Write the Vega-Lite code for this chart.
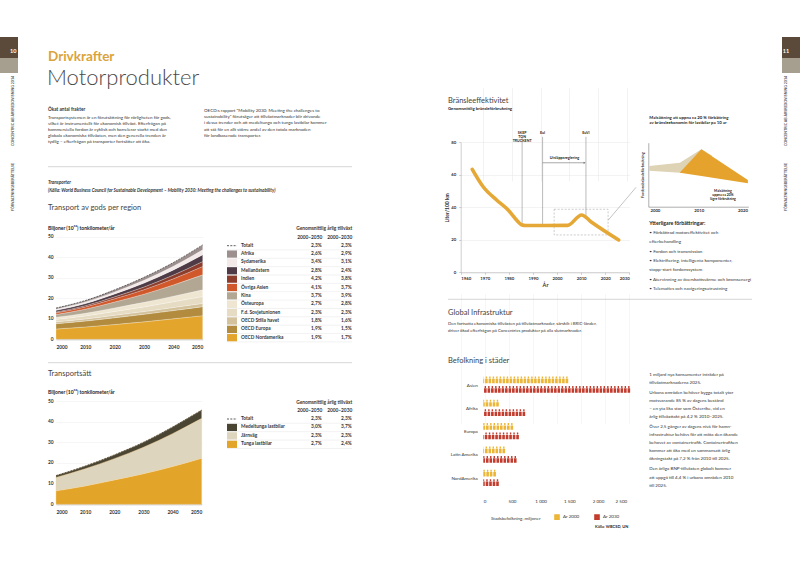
{
"$schema": "https://vega.github.io/schema/vega-lite/v6.json",
"width": 800, "height": 566, "padding": 0,
"autosize": {"type": "none"},
"background": "#ffffff",
"config": {
  "font": "Lato",
  "view": {"stroke": null},
  "axis": {"labelFont": "Lato", "titleFont": "Lato", "labelColor": "#333333", "titleColor": "#333333", "domainColor": "#b0b0b0", "tickColor": "#b0b0b0", "labelFontSize": 4.8, "grid": false, "domainWidth": 0.6, "tickWidth": 0.6},
  "legend": {"labelFont": "Lato", "titleFont": "Lato"}
},
"datasets": {
  "regions": [
    {"year":2000,"region":"OECD Nordamerika","value":5.0,"rank":1},{"year":2010,"region":"OECD Nordamerika","value":6.0,"rank":1},{"year":2020,"region":"OECD Nordamerika","value":7.2,"rank":1},{"year":2030,"region":"OECD Nordamerika","value":8.5,"rank":1},{"year":2040,"region":"OECD Nordamerika","value":10.0,"rank":1},{"year":2050,"region":"OECD Nordamerika","value":11.5,"rank":1},
    {"year":2000,"region":"OECD Europa","value":2.6,"rank":2},{"year":2010,"region":"OECD Europa","value":2.9,"rank":2},{"year":2020,"region":"OECD Europa","value":3.3,"rank":2},{"year":2030,"region":"OECD Europa","value":3.7,"rank":2},{"year":2040,"region":"OECD Europa","value":4.0,"rank":2},{"year":2050,"region":"OECD Europa","value":4.4,"rank":2},
    {"year":2000,"region":"OECD Stilla havet","value":0.9,"rank":3},{"year":2010,"region":"OECD Stilla havet","value":1.0,"rank":3},{"year":2020,"region":"OECD Stilla havet","value":1.2,"rank":3},{"year":2030,"region":"OECD Stilla havet","value":1.3,"rank":3},{"year":2040,"region":"OECD Stilla havet","value":1.5,"rank":3},{"year":2050,"region":"OECD Stilla havet","value":1.6,"rank":3},
    {"year":2000,"region":"F.d. Sovjetunionen","value":1.2,"rank":4},{"year":2010,"region":"F.d. Sovjetunionen","value":1.5,"rank":4},{"year":2020,"region":"F.d. Sovjetunionen","value":1.9,"rank":4},{"year":2030,"region":"F.d. Sovjetunionen","value":2.3,"rank":4},{"year":2040,"region":"F.d. Sovjetunionen","value":2.8,"rank":4},{"year":2050,"region":"F.d. Sovjetunionen","value":3.3,"rank":4},
    {"year":2000,"region":"Östeuropa","value":1.0,"rank":5},{"year":2010,"region":"Östeuropa","value":1.3,"rank":5},{"year":2020,"region":"Östeuropa","value":1.7,"rank":5},{"year":2030,"region":"Östeuropa","value":2.2,"rank":5},{"year":2040,"region":"Östeuropa","value":2.7,"rank":5},{"year":2050,"region":"Östeuropa","value":3.3,"rank":5},
    {"year":2000,"region":"Kina","value":1.4,"rank":6},{"year":2010,"region":"Kina","value":2.0,"rank":6},{"year":2020,"region":"Kina","value":2.9,"rank":6},{"year":2030,"region":"Kina","value":4.0,"rank":6},{"year":2040,"region":"Kina","value":5.5,"rank":6},{"year":2050,"region":"Kina","value":7.3,"rank":6},
    {"year":2000,"region":"Övriga Asien","value":0.8,"rank":7},{"year":2010,"region":"Övriga Asien","value":1.1,"rank":7},{"year":2020,"region":"Övriga Asien","value":1.6,"rank":7},{"year":2030,"region":"Övriga Asien","value":2.2,"rank":7},{"year":2040,"region":"Övriga Asien","value":3.0,"rank":7},{"year":2050,"region":"Övriga Asien","value":4.1,"rank":7},
    {"year":2000,"region":"Indien","value":0.4,"rank":8},{"year":2010,"region":"Indien","value":0.6,"rank":8},{"year":2020,"region":"Indien","value":0.9,"rank":8},{"year":2030,"region":"Indien","value":1.3,"rank":8},{"year":2040,"region":"Indien","value":1.8,"rank":8},{"year":2050,"region":"Indien","value":2.4,"rank":8},
    {"year":2000,"region":"Mellanöstern","value":0.8,"rank":9},{"year":2010,"region":"Mellanöstern","value":1.0,"rank":9},{"year":2020,"region":"Mellanöstern","value":1.4,"rank":9},{"year":2030,"region":"Mellanöstern","value":1.9,"rank":9},{"year":2040,"region":"Mellanöstern","value":2.5,"rank":9},{"year":2050,"region":"Mellanöstern","value":3.3,"rank":9},
    {"year":2000,"region":"Sydamerika","value":0.6,"rank":10},{"year":2010,"region":"Sydamerika","value":0.8,"rank":10},{"year":2020,"region":"Sydamerika","value":1.0,"rank":10},{"year":2030,"region":"Sydamerika","value":1.4,"rank":10},{"year":2040,"region":"Sydamerika","value":1.8,"rank":10},{"year":2050,"region":"Sydamerika","value":2.4,"rank":10},
    {"year":2000,"region":"Afrika","value":0.5,"rank":11},{"year":2010,"region":"Afrika","value":0.7,"rank":11},{"year":2020,"region":"Afrika","value":1.0,"rank":11},{"year":2030,"region":"Afrika","value":1.4,"rank":11},{"year":2040,"region":"Afrika","value":1.8,"rank":11},{"year":2050,"region":"Afrika","value":2.4,"rank":11}
  ],
  "regTotal": [{"year":2000,"total":15.2},{"year":2010,"total":18.9},{"year":2020,"total":24.1},{"year":2030,"total":30.2},{"year":2040,"total":37.4},{"year":2050,"total":46.0}],
  "t1": [
    {"region":"Totalt","2000–2050":"2,3%","2000–2030":"2,3%"},
    {"region":"Afrika","2000–2050":"2,6%","2000–2030":"2,9%"},
    {"region":"Sydamerika","2000–2050":"3,4%","2000–2030":"3,1%"},
    {"region":"Mellanöstern","2000–2050":"2,8%","2000–2030":"2,4%"},
    {"region":"Indien","2000–2050":"4,2%","2000–2030":"3,8%"},
    {"region":"Övriga Asien","2000–2050":"4,1%","2000–2030":"3,7%"},
    {"region":"Kina","2000–2050":"3,7%","2000–2030":"3,9%"},
    {"region":"Östeuropa","2000–2050":"2,7%","2000–2030":"2,8%"},
    {"region":"F.d. Sovjetunionen","2000–2050":"2,3%","2000–2030":"2,3%"},
    {"region":"OECD Stilla havet","2000–2050":"1,8%","2000–2030":"1,6%"},
    {"region":"OECD Europa","2000–2050":"1,9%","2000–2030":"1,5%"},
    {"region":"OECD Nordamerika","2000–2050":"1,9%","2000–2030":"1,7%"}
  ],
  "modes": [
    {"year":2000,"mode":"Tunga lastbilar","value":6.5,"rank":1},{"year":2010,"mode":"Tunga lastbilar","value":8.9,"rank":1},{"year":2020,"mode":"Tunga lastbilar","value":11.8,"rank":1},{"year":2030,"mode":"Tunga lastbilar","value":14.8,"rank":1},{"year":2040,"mode":"Tunga lastbilar","value":18.3,"rank":1},{"year":2050,"mode":"Tunga lastbilar","value":22.3,"rank":1},
    {"year":2000,"mode":"Järnväg","value":6.5,"rank":2},{"year":2010,"mode":"Järnväg","value":8.3,"rank":2},{"year":2020,"mode":"Järnväg","value":10.3,"rank":2},{"year":2030,"mode":"Järnväg","value":12.8,"rank":2},{"year":2040,"mode":"Järnväg","value":15.9,"rank":2},{"year":2050,"mode":"Järnväg","value":19.3,"rank":2},
    {"year":2000,"mode":"Medeltunga lastbilar","value":0.9,"rank":3},{"year":2010,"mode":"Medeltunga lastbilar","value":1.3,"rank":3},{"year":2020,"mode":"Medeltunga lastbilar","value":1.8,"rank":3},{"year":2030,"mode":"Medeltunga lastbilar","value":2.4,"rank":3},{"year":2040,"mode":"Medeltunga lastbilar","value":3.2,"rank":3},{"year":2050,"mode":"Medeltunga lastbilar","value":4.0,"rank":3}
  ],
  "modeTotal": [{"year":2000,"total":13.9},{"year":2010,"total":18.5},{"year":2020,"total":23.9},{"year":2030,"total":30.0},{"year":2040,"total":37.4},{"year":2050,"total":45.6}],
  "t2": [
    {"mode":"Totalt","2000–2050":"2,3%","2000–2030":"2,3%"},
    {"mode":"Medeltunga lastbilar","2000–2050":"3,0%","2000–2030":"3,7%"},
    {"mode":"Järnväg","2000–2050":"2,3%","2000–2030":"2,3%"},
    {"mode":"Tunga lastbilar","2000–2050":"2,7%","2000–2030":"2,4%"}
  ],
  "fuel": [{"year":1964.8,"v":63.4},{"year":1969.4,"v":52.5},{"year":1974.9,"v":44.5},{"year":1979.7,"v":38.3},{"year":1982.7,"v":33},{"year":1985.2,"v":29.3},{"year":1987.1,"v":28.8},{"year":1995,"v":28.8},{"year":2004.4,"v":28.9},{"year":2010.2,"v":35.3},{"year":2014.2,"v":31},{"year":2025.6,"v":19.9}],
  "picto": [
    {"region":"Asien","year":"År 2000","value":1480},{"region":"Asien","year":"År 2030","value":2560},
    {"region":"Afrika","year":"År 2000","value":270},{"region":"Afrika","year":"År 2030","value":730},
    {"region":"Europa","year":"År 2000","value":520},{"region":"Europa","year":"År 2030","value":620},
    {"region":"Latin Amerika","year":"År 2000","value":380},{"region":"Latin Amerika","year":"År 2030","value":580},
    {"region":"NordAmerika","year":"År 2000","value":220},{"region":"NordAmerika","year":"År 2030","value":270}
  ]
},
"resolve": {"scale": {"x": "independent", "y": "independent", "color": "independent"}, "axis": {"x": "independent", "y": "independent"}, "legend": {"color": "independent"}},
"layer": [
  {"data": {"values": [{"side":"L"},{"side":"R"}]}, "mark": {"type":"rect","color":"#5b4a3a"},
   "encoding": {"x": {"field":"side","type":"nominal","scale":{"type":"band","domain":["L","R"],"range":[0,800],"paddingInner":0.977,"paddingOuter":0},"axis":null},
     "y": {"datum":0,"type":"quantitative","scale":{"domain":[0,36],"range":[37,73],"nice":false,"zero":false},"axis":null},
     "y2": {"datum":21}}},
  {"data": {"values": [{"side":"L"},{"side":"R"}]}, "mark": {"type":"rect","color":"#a69e8f"},
   "encoding": {"x": {"field":"side","type":"nominal","scale":{"type":"band","domain":["L","R"],"range":[0,800],"paddingInner":0.977,"paddingOuter":0},"axis":null},
     "y": {"datum":21,"type":"quantitative","scale":{"domain":[0,36],"range":[37,73],"nice":false,"zero":false},"axis":null},
     "y2": {"datum":36}}},
  {"data": {"values": [{"side":"L","num":"10"},{"side":"R","num":"11"}]}, "mark": {"type":"text","color":"#ffffff","fontSize":5.5,"fontWeight":"bold","baseline":"middle"},
   "encoding": {"x": {"field":"side","type":"nominal","scale":{"type":"point","domain":["L","R"],"range":[13.3,786],"padding":0},"axis":null},
     "y": {"datum":0,"type":"quantitative","scale":{"domain":[0,1],"range":[50.7,51.7],"nice":false,"zero":false},"axis":null},
     "text": {"field":"num"}}},
  {"data": {"values": [{"side":"L","seg":"a","text":"CONCENTRIC AB ÅRSREDOVISNING 2014"},{"side":"L","seg":"b","text":"FÖRVALTNINGSBERÄTTELSE"},{"side":"R","seg":"a","text":"CONCENTRIC AB ÅRSREDOVISNING 2014"},{"side":"R","seg":"b","text":"FÖRVALTNINGSBERÄTTELSE"}]},
   "mark": {"type":"text","color":"#555555","fontSize":3.6,"fontWeight":"bold","angle":270,"align":"center","baseline":"middle"},
   "encoding": {"x": {"field":"side","type":"nominal","scale":{"type":"point","domain":["L","R"],"range":[13.3,786],"padding":0},"axis":null},
     "y": {"field":"seg","type":"nominal","scale":{"type":"point","domain":["a","b"],"range":[111,187],"padding":0},"axis":null},
     "text": {"field":"text"}}},

  {"data": {"values": [{"line":0,"text":"Drivkrafter"}]}, "mark": {"type":"text","align":"left","baseline":"alphabetic","fontSize":13.5,"fontWeight":"bold","color":"#dba33b"},
   "encoding": {"x": {"datum":0,"type":"quantitative","scale":{"domain":[0,1],"range":[48,49],"nice":false,"zero":false},"axis":null},
     "y": {"field":"line","type":"quantitative","scale":{"domain":[0,1],"range":[60.7,61.7],"nice":false,"zero":false},"axis":null},"text": {"field":"text"}}},
  {"data": {"values": [{"line":0,"text":"Motorprodukter"}]}, "mark": {"type":"text","align":"left","baseline":"alphabetic","fontSize":22,"fontWeight":300,"color":"#4a4a4a"},
   "encoding": {"x": {"datum":0,"type":"quantitative","scale":{"domain":[0,1],"range":[47,48],"nice":false,"zero":false},"axis":null},
     "y": {"field":"line","type":"quantitative","scale":{"domain":[0,1],"range":[85,86],"nice":false,"zero":false},"axis":null},"text": {"field":"text"}}},
  {"data": {"values": [{"line":0,"text":"Ökat antal frakter"}]}, "mark": {"type":"text","align":"left","baseline":"middle","fontSize":4.7,"fontWeight":"bold","color":"#333333"},
   "encoding": {"x": {"datum":0,"type":"quantitative","scale":{"domain":[0,1],"range":[48,49],"nice":false,"zero":false},"axis":null},
     "y": {"field":"line","type":"quantitative","scale":{"domain":[0,1],"range":[110,111],"nice":false,"zero":false},"axis":null},"text": {"field":"text"}}},
  {"data": {"values": [
      {"line":0,"text":"Transportsystemen är en förutsättning för rörligheten för gods,"},
      {"line":1,"text":"vilket är instrumentellt för ekonomisk tillväxt. Efterfrågan på"},
      {"line":2,"text":"kommersiella fordon är cyklisk och korrelerar starkt med den"},
      {"line":3,"text":"globala ekonomiska tillväxten, men den generella trenden är"},
      {"line":4,"text":"tydlig – efterfrågan på transporter fortsätter att öka."}]},
   "mark": {"type":"text","align":"left","baseline":"middle","fontSize":4.5,"color":"#333333"},
   "encoding": {"x": {"datum":0,"type":"quantitative","scale":{"domain":[0,1],"range":[48,49],"nice":false,"zero":false},"axis":null},
     "y": {"field":"line","type":"quantitative","scale":{"domain":[0,1],"range":[118.3,124.3],"nice":false,"zero":false},"axis":null},"text": {"field":"text"}}},
  {"data": {"values": [
      {"line":0,"text":"OECD:s rapport \"Mobility 2030: Meeting the challenges to"},
      {"line":1,"text":"sustainability\" förutsäger att tillväxtmarknader blir drivande"},
      {"line":2,"text":"i dessa trender och att medeltunga och tunga lastbilar kommer"},
      {"line":3,"text":"att stå för en allt större andel av den totala marknaden"},
      {"line":4,"text":"för landbaserade transporter."}]},
   "mark": {"type":"text","align":"left","baseline":"middle","fontSize":4.5,"color":"#333333"},
   "encoding": {"x": {"datum":0,"type":"quantitative","scale":{"domain":[0,1],"range":[204,205],"nice":false,"zero":false},"axis":null},
     "y": {"field":"line","type":"quantitative","scale":{"domain":[0,1],"range":[110.7,117],"nice":false,"zero":false},"axis":null},"text": {"field":"text"}}},
  {"data": {"values": [{"sep":0},{"sep":1}]}, "mark": {"type":"rule","color":"#c4c4c4","strokeWidth":0.7},
   "encoding": {"x": {"datum":0,"type":"quantitative","scale":{"domain":[0,1],"range":[48,352],"nice":false,"zero":false},"axis":null},"x2": {"datum":1},
     "y": {"field":"sep","type":"quantitative","scale":{"domain":[0,1],"range":[166.7,362.7],"nice":false,"zero":false},"axis":null}}},
  {"data": {"values": [{"line":0,"text":"Transporter"}]}, "mark": {"type":"text","align":"left","baseline":"middle","fontSize":4.7,"fontWeight":"bold","fontStyle":"italic","color":"#333333"},
   "encoding": {"x": {"datum":0,"type":"quantitative","scale":{"domain":[0,1],"range":[48,49],"nice":false,"zero":false},"axis":null},
     "y": {"field":"line","type":"quantitative","scale":{"domain":[0,1],"range":[183.3,184.3],"nice":false,"zero":false},"axis":null},"text": {"field":"text"}}},
  {"data": {"values": [{"line":0,"text":"(Källa: World Business Council for Sustainable Development – Mobility 2030: Meeting the challenges to sustainability)"}]}, "mark": {"type":"text","align":"left","baseline":"middle","fontSize":4.6,"fontWeight":"bold","fontStyle":"italic","color":"#333333"},
   "encoding": {"x": {"datum":0,"type":"quantitative","scale":{"domain":[0,1],"range":[48,49],"nice":false,"zero":false},"axis":null},
     "y": {"field":"line","type":"quantitative","scale":{"domain":[0,1],"range":[191,192],"nice":false,"zero":false},"axis":null},"text": {"field":"text"}}},
  {"data": {"values": [{"line":0,"text":"Transport av gods per region"},{"line":1,"text":"Transportsätt"}]}, "mark": {"type":"text","align":"left","baseline":"middle","fontSize":7.5,"color":"#444444"},
   "encoding": {"x": {"datum":0,"type":"quantitative","scale":{"domain":[0,1],"range":[48,49],"nice":false,"zero":false},"axis":null},
     "y": {"field":"line","type":"quantitative","scale":{"domain":[0,1],"range":[208.3,374],"nice":false,"zero":false},"axis":null},"text": {"field":"text"}}},
  {"data": {"values": [{"line":0,"text":"Biljoner (10¹²) tonkilometer/år"},{"line":1,"text":"Biljoner (10¹²) tonkilometer/år"}]}, "mark": {"type":"text","align":"left","baseline":"middle","fontSize":5,"fontWeight":"bold","color":"#222222"},
   "encoding": {"x": {"datum":0,"type":"quantitative","scale":{"domain":[0,1],"range":[48,49],"nice":false,"zero":false},"axis":null},
     "y": {"field":"line","type":"quantitative","scale":{"domain":[0,1],"range":[227.7,392.3],"nice":false,"zero":false},"axis":null},"text": {"field":"text"}}},

  {"data": {"name":"regions"}, "mark": {"type":"area","interpolate":"monotone","stroke":"#ffffff","strokeWidth":0.25},
   "encoding": {
     "x": {"field":"year","type":"quantitative","scale":{"domain":[2000,2050],"range":[56,202.7],"nice":false,"zero":false},
       "axis":{"orient":"bottom","offset":-226.7,"values":[2000,2010,2020,2030,2040,2050],"format":"d","labelFontWeight":"bold","tickSize":0,"labelPadding":5,"title":null,"domainColor":"#999999"}},
     "y": {"field":"value","type":"quantitative","stack":"zero","scale":{"domain":[0,50],"range":[339.3,236.7],"nice":false,"zero":false},
       "axis":{"orient":"left","offset":-56,"values":[0,10,20,30,40,50],"labelFontWeight":"bold","tickSize":0,"labelPadding":3,"domain":false,"grid":true,"gridColor":"#ececec","gridWidth":0.5,"title":null}},
     "color": {"field":"region","type":"nominal","scale":{"domain":["Afrika","Sydamerika","Mellanöstern","Indien","Övriga Asien","Kina","Östeuropa","F.d. Sovjetunionen","OECD Stilla havet","OECD Europa","OECD Nordamerika"],"range":["#9d8f8e","#f3e9e9","#4f3b45","#8c3d2c","#d0582a","#b2a793","#efe6d2","#e6dbc3","#d3c29c","#b28b3e","#e3a52c"]},"legend":null},
     "order": {"field":"rank","type":"quantitative","sort":"ascending"}}},
  {"data": {"name":"regTotal"}, "mark": {"type":"line","interpolate":"monotone","color":"#333333","strokeWidth":0.7,"strokeDash":[2,1]},
   "encoding": {"x": {"field":"year","type":"quantitative","scale":{"domain":[2000,2050],"range":[56,202.7],"nice":false,"zero":false},"axis":null},
     "y": {"field":"total","type":"quantitative","scale":{"domain":[0,50],"range":[339.3,236.7],"nice":false,"zero":false},"axis":null}}},
  {"data": {"name":"t1"}, "transform": [{"filter":"datum.region != 'Totalt'"}], "mark": {"type":"bar","height":7.3},
   "encoding": {"y": {"field":"region","type":"nominal","sort":null,"scale":{"type":"point","domain":["Totalt","Afrika","Sydamerika","Mellanöstern","Indien","Övriga Asien","Kina","Östeuropa","F.d. Sovjetunionen","OECD Stilla havet","OECD Europa","OECD Nordamerika"],"range":[245.7,337.7],"padding":0},"axis":null},
     "x": {"datum":0,"type":"quantitative","scale":{"domain":[0,1],"range":[227,237],"nice":false,"zero":false},"axis":null},"x2": {"datum":1},
     "color": {"field":"region","type":"nominal","scale":{"domain":["Afrika","Sydamerika","Mellanöstern","Indien","Övriga Asien","Kina","Östeuropa","F.d. Sovjetunionen","OECD Stilla havet","OECD Europa","OECD Nordamerika"],"range":["#9d8f8e","#f3e9e9","#4f3b45","#8c3d2c","#d0582a","#b2a793","#efe6d2","#e6dbc3","#d3c29c","#b28b3e","#e3a52c"]},"legend":null}}},
  {"data": {"name":"t1"}, "transform": [{"filter":"datum.region == 'Totalt'"}], "mark": {"type":"rule","color":"#333333","strokeWidth":0.8,"strokeDash":[2,1.3]},
   "encoding": {"y": {"field":"region","type":"nominal","scale":{"type":"point","domain":["Totalt","Afrika","Sydamerika","Mellanöstern","Indien","Övriga Asien","Kina","Östeuropa","F.d. Sovjetunionen","OECD Stilla havet","OECD Europa","OECD Nordamerika"],"range":[245.7,337.7],"padding":0},"axis":null},
     "x": {"datum":0,"type":"quantitative","scale":{"domain":[0,1],"range":[227,237],"nice":false,"zero":false},"axis":null},"x2": {"datum":1}}},
  {"data": {"name":"t1"}, "mark": {"type":"rule","color":"#dddddd","strokeWidth":0.4},
   "encoding": {"y": {"field":"region","type":"nominal","scale":{"type":"point","domain":["Totalt","Afrika","Sydamerika","Mellanöstern","Indien","Övriga Asien","Kina","Östeuropa","F.d. Sovjetunionen","OECD Stilla havet","OECD Europa","OECD Nordamerika"],"range":[249.9,341.9],"padding":0},"axis":null},
     "x": {"datum":0,"type":"quantitative","scale":{"domain":[0,1],"range":[227,352],"nice":false,"zero":false},"axis":null},"x2": {"datum":1}}},
  {"data": {"name":"t1"}, "mark": {"type":"text","align":"left","baseline":"middle","fontSize":4.8,"fontWeight":"bold","color":"#333333"},
   "encoding": {"y": {"field":"region","type":"nominal","scale":{"type":"point","domain":["Totalt","Afrika","Sydamerika","Mellanöstern","Indien","Övriga Asien","Kina","Östeuropa","F.d. Sovjetunionen","OECD Stilla havet","OECD Europa","OECD Nordamerika"],"range":[245.7,337.7],"padding":0},"axis":null},
     "x": {"datum":0,"type":"quantitative","scale":{"domain":[0,1],"range":[241,242],"nice":false,"zero":false},"axis":null},
     "text": {"field":"region"}}},
  {"data": {"name":"t1"}, "transform": [{"fold":["2000–2050","2000–2030"],"as":["period","rate"]}], "mark": {"type":"text","align":"right","baseline":"middle","fontSize":4.8,"fontWeight":"bold","color":"#333333"},
   "encoding": {"y": {"field":"region","type":"nominal","scale":{"type":"point","domain":["Totalt","Afrika","Sydamerika","Mellanöstern","Indien","Övriga Asien","Kina","Östeuropa","F.d. Sovjetunionen","OECD Stilla havet","OECD Europa","OECD Nordamerika"],"range":[245.7,337.7],"padding":0},"axis":null},
     "x": {"field":"period","type":"nominal","scale":{"type":"point","domain":["2000–2050","2000–2030"],"range":[321.7,351.7],"padding":0},
       "axis":{"orient":"top","offset":-239.5,"domain":false,"ticks":false,"labelPadding":0.5,"labelFontSize":4.8,"labelFontWeight":"bold","labelAlign":"right","labelAngle":0,"title":"Genomsnittlig årlig tillväxt","titleFontSize":4.8,"titleFontWeight":"bold","titleAnchor":"end","titlePadding":3.5}},
     "text": {"field":"rate"}}},

  {"data": {"name":"modes"}, "mark": {"type":"area","interpolate":"monotone","stroke":"#f4d39a","strokeWidth":0.4},
   "encoding": {
     "x": {"field":"year","type":"quantitative","scale":{"domain":[2000,2050],"range":[56,201.7],"nice":false,"zero":false},
       "axis":{"orient":"bottom","offset":-61.7,"values":[2000,2010,2020,2030,2040,2050],"format":"d","labelFontWeight":"bold","tickSize":0,"labelPadding":5,"title":null,"domainColor":"#999999"}},
     "y": {"field":"value","type":"quantitative","stack":"zero","scale":{"domain":[0,50],"range":[504.3,401],"nice":false,"zero":false},
       "axis":{"orient":"left","offset":-56,"values":[0,10,20,30,40,50],"labelFontWeight":"bold","tickSize":0,"labelPadding":3,"domain":false,"grid":true,"gridColor":"#ececec","gridWidth":0.5,"title":null}},
     "color": {"field":"mode","type":"nominal","scale":{"domain":["Medeltunga lastbilar","Järnväg","Tunga lastbilar"],"range":["#4a4533","#ddd5bd","#e3a42a"]},"legend":null},
     "order": {"field":"rank","type":"quantitative","sort":"ascending"}}},
  {"data": {"name":"modeTotal"}, "mark": {"type":"line","interpolate":"monotone","color":"#333333","strokeWidth":0.7,"strokeDash":[2,1]},
   "encoding": {"x": {"field":"year","type":"quantitative","scale":{"domain":[2000,2050],"range":[56,201.7],"nice":false,"zero":false},"axis":null},
     "y": {"field":"total","type":"quantitative","scale":{"domain":[0,50],"range":[504.3,401],"nice":false,"zero":false},"axis":null}}},
  {"data": {"name":"t2"}, "transform": [{"filter":"datum.mode != 'Totalt'"}], "mark": {"type":"bar","height":7.3},
   "encoding": {"y": {"field":"mode","type":"nominal","sort":null,"scale":{"type":"point","domain":["Totalt","Medeltunga lastbilar","Järnväg","Tunga lastbilar"],"range":[419,444.3],"padding":0},"axis":null},
     "x": {"datum":0,"type":"quantitative","scale":{"domain":[0,1],"range":[227,237],"nice":false,"zero":false},"axis":null},"x2": {"datum":1},
     "color": {"field":"mode","type":"nominal","scale":{"domain":["Medeltunga lastbilar","Järnväg","Tunga lastbilar"],"range":["#4a4533","#ddd5bd","#e3a42a"]},"legend":null}}},
  {"data": {"name":"t2"}, "transform": [{"filter":"datum.mode == 'Totalt'"}], "mark": {"type":"rule","color":"#333333","strokeWidth":0.8,"strokeDash":[2,1.3]},
   "encoding": {"y": {"field":"mode","type":"nominal","scale":{"type":"point","domain":["Totalt","Medeltunga lastbilar","Järnväg","Tunga lastbilar"],"range":[419,444.3],"padding":0},"axis":null},
     "x": {"datum":0,"type":"quantitative","scale":{"domain":[0,1],"range":[227,237],"nice":false,"zero":false},"axis":null},"x2": {"datum":1}}},
  {"data": {"name":"t2"}, "mark": {"type":"rule","color":"#dddddd","strokeWidth":0.4},
   "encoding": {"y": {"field":"mode","type":"nominal","scale":{"type":"point","domain":["Totalt","Medeltunga lastbilar","Järnväg","Tunga lastbilar"],"range":[423.2,448.5],"padding":0},"axis":null},
     "x": {"datum":0,"type":"quantitative","scale":{"domain":[0,1],"range":[227,352],"nice":false,"zero":false},"axis":null},"x2": {"datum":1}}},
  {"data": {"name":"t2"}, "mark": {"type":"text","align":"left","baseline":"middle","fontSize":4.8,"fontWeight":"bold","color":"#333333"},
   "encoding": {"y": {"field":"mode","type":"nominal","scale":{"type":"point","domain":["Totalt","Medeltunga lastbilar","Järnväg","Tunga lastbilar"],"range":[419,444.3],"padding":0},"axis":null},
     "x": {"datum":0,"type":"quantitative","scale":{"domain":[0,1],"range":[241,242],"nice":false,"zero":false},"axis":null},
     "text": {"field":"mode"}}},
  {"data": {"name":"t2"}, "transform": [{"fold":["2000–2050","2000–2030"],"as":["period","rate"]}], "mark": {"type":"text","align":"right","baseline":"middle","fontSize":4.8,"fontWeight":"bold","color":"#333333"},
   "encoding": {"y": {"field":"mode","type":"nominal","scale":{"type":"point","domain":["Totalt","Medeltunga lastbilar","Järnväg","Tunga lastbilar"],"range":[419,444.3],"padding":0},"axis":null},
     "x": {"field":"period","type":"nominal","scale":{"type":"point","domain":["2000–2050","2000–2030"],"range":[321.7,351.7],"padding":0},
       "axis":{"orient":"top","offset":-413.3,"domain":false,"ticks":false,"labelPadding":0.5,"labelFontSize":4.8,"labelFontWeight":"bold","labelAlign":"right","labelAngle":0,"title":"Genomsnittlig årlig tillväxt","titleFontSize":4.8,"titleFontWeight":"bold","titleAnchor":"end","titlePadding":3.5}},
     "text": {"field":"rate"}}},

  {"data": {"values": [{"line":0,"text":"Bränsleeffektivitet"}]}, "mark": {"type":"text","align":"left","baseline":"middle","fontSize":7.5,"color":"#444444"},
   "encoding": {"x": {"datum":0,"type":"quantitative","scale":{"domain":[0,1],"range":[448,449],"nice":false,"zero":false},"axis":null},
     "y": {"field":"line","type":"quantitative","scale":{"domain":[0,1],"range":[100.7,101.7],"nice":false,"zero":false},"axis":null},"text": {"field":"text"}}},
  {"data": {"values": [{"line":0,"text":"Genomsnittlig bränsleförbrukning"}]}, "mark": {"type":"text","align":"left","baseline":"middle","fontSize":4.3,"fontWeight":"bold","color":"#222222"},
   "encoding": {"x": {"datum":0,"type":"quantitative","scale":{"domain":[0,1],"range":[448,449],"nice":false,"zero":false},"axis":null},
     "y": {"field":"line","type":"quantitative","scale":{"domain":[0,1],"range":[109.3,110.3],"nice":false,"zero":false},"axis":null},"text": {"field":"text"}}},
  {"data": {"values": [{"x0":1998.8,"x1":2021.2,"y0":23,"y1":38.8}]}, "mark": {"type":"rect","fillOpacity":0,"stroke":"#9a9a9a","strokeDash":[2,1.5],"strokeWidth":0.5},
   "encoding": {"x": {"field":"x0","type":"quantitative","scale":{"domain":[1960,2030],"range":[460.7,629.3],"nice":false,"zero":false},"axis":null},"x2": {"field":"x1"},
     "y": {"field":"y0","type":"quantitative","scale":{"domain":[0,80],"range":[272.3,142.3],"nice":false,"zero":false},"axis":null},"y2": {"field":"y1"}}},
  {"data": {"values": [{"year":1985.5,"y0":29,"y1":83.4},{"year":1994,"y0":29,"y1":83.4},{"year":2012,"y0":33.5,"y1":83.4}]}, "mark": {"type":"rule","color":"#777777","strokeWidth":0.5},
   "encoding": {"x": {"field":"year","type":"quantitative","scale":{"domain":[1960,2030],"range":[460.7,629.3],"nice":false,"zero":false},"axis":null},
     "y": {"field":"y0","type":"quantitative","scale":{"domain":[0,80],"range":[272.3,142.3],"nice":false,"zero":false},"axis":null},"y2": {"field":"y1"}}},
  {"data": {"name":"fuel"}, "mark": {"type":"line","color":"#e5a836","strokeWidth":3.6,"interpolate":"monotone","strokeCap":"round","strokeJoin":"round"},
   "encoding": {
     "x": {"field":"year","type":"quantitative","scale":{"domain":[1960,2030],"range":[460.7,629.3],"nice":false,"zero":false},
       "axis":{"orient":"bottom","offset":-293.7,"values":[1960,1970,1980,1990,2000,2010,2020,2030],"format":"d","labelFontSize":4.3,"labelFontWeight":"bold","tickSize":2,"labelPadding":2,"grid":true,"gridColor":"#ececec","gridWidth":0.5,"title":"År","titleFontSize":5.5,"titleFontWeight":"bold","titlePadding":2}},
     "y": {"field":"v","type":"quantitative","scale":{"domain":[0,80],"range":[272.3,142.3],"nice":false,"zero":false},
       "axis":{"orient":"left","offset":-460.7,"values":[0,20,40,60,80],"labelFontSize":4.3,"labelFontWeight":"bold","tickSize":2,"labelPadding":3,"grid":true,"gridColor":"#e6e6e6","gridWidth":0.5,"title":"Liter/100 km","titleFontSize":5,"titleFontWeight":"bold","titlePadding":1}}}},
  {"data": {"values": [{"year":1985.5,"label":"SKEP\nTON\nTRUCKENT"},{"year":1994,"label":"EuI"},{"year":2012,"label":"EuVI"}]}, "mark": {"type":"text","align":"center","baseline":"bottom","fontSize":3.6,"fontWeight":"bold","lineBreak":"\n","lineHeight":4.2,"color":"#222222"},
   "encoding": {"x": {"field":"year","type":"quantitative","scale":{"domain":[1960,2030],"range":[460.7,629.3],"nice":false,"zero":false},"axis":null},
     "y": {"datum":84.6,"type":"quantitative","scale":{"domain":[0,80],"range":[272.3,142.3],"nice":false,"zero":false},"axis":null},
     "text": {"field":"label"}}},
  {"data": {"values": [{"x0":1994,"x1":2011.7,"v":67.4}]}, "mark": {"type":"rule","color":"#555555","strokeWidth":0.5},
   "encoding": {"x": {"field":"x0","type":"quantitative","scale":{"domain":[1960,2030],"range":[460.7,629.3],"nice":false,"zero":false},"axis":null},"x2": {"field":"x1"},
     "y": {"field":"v","type":"quantitative","scale":{"domain":[0,80],"range":[272.3,142.3],"nice":false,"zero":false},"axis":null}}},
  {"data": {"values": [{"x":2011.4,"v":67.4}]}, "mark": {"type":"point","shape":"triangle-right","filled":true,"size":5,"color":"#555555"},
   "encoding": {"x": {"field":"x","type":"quantitative","scale":{"domain":[1960,2030],"range":[460.7,629.3],"nice":false,"zero":false},"axis":null},
     "y": {"field":"v","type":"quantitative","scale":{"domain":[0,80],"range":[272.3,142.3],"nice":false,"zero":false},"axis":null}}},
  {"data": {"values": [{"x":2003.1,"v":70.6,"label":"Utsläppsreglering"}]}, "mark": {"type":"text","align":"center","baseline":"middle","fontSize":3.8,"fontWeight":"bold","color":"#222222"},
   "encoding": {"x": {"field":"x","type":"quantitative","scale":{"domain":[1960,2030],"range":[460.7,629.3],"nice":false,"zero":false},"axis":null},
     "y": {"field":"v","type":"quantitative","scale":{"domain":[0,80],"range":[272.3,142.3],"nice":false,"zero":false},"axis":null},
     "text": {"field":"label"}}},
  {"data": {"values": [{"x0":2021.2,"y0":32,"x1":2032.8,"y1":52.3}]}, "mark": {"type":"rule","color":"#888888","strokeWidth":0.5},
   "encoding": {"x": {"field":"x0","type":"quantitative","scale":{"domain":[1960,2030],"range":[460.7,629.3],"nice":false,"zero":false},"axis":null},"x2": {"field":"x1"},
     "y": {"field":"y0","type":"quantitative","scale":{"domain":[0,80],"range":[272.3,142.3],"nice":false,"zero":false},"axis":null},"y2": {"field":"y1"}}},

  {"data": {"values": [{"line":0,"text":"Målsättning att uppnå ca 20 % förbättring"},{"line":1,"text":"av bränsleekonomin för lastbilar på 10 år"}]}, "mark": {"type":"text","align":"left","baseline":"middle","fontSize":4.3,"fontWeight":"bold","color":"#222222"},
   "encoding": {"x": {"datum":0,"type":"quantitative","scale":{"domain":[0,1],"range":[649.3,650.3],"nice":false,"zero":false},"axis":null},
     "y": {"field":"line","type":"quantitative","scale":{"domain":[0,1],"range":[118.3,123.3],"nice":false,"zero":false},"axis":null},"text": {"field":"text"}}},
  {"data": {"values": [{"year":1998.7,"lo":56,"hi":63.6},{"year":2005.7,"lo":53,"hi":68.5},{"year":2010.6,"lo":53,"hi":89.6},{"year":2013,"lo":50,"hi":80}]}, "mark": {"type":"area","color":"#ded3b4"},
   "encoding": {
     "x": {"field":"year","type":"quantitative","scale":{"domain":[1998.5,2021.3],"range":[648.3,748.3],"nice":false,"zero":false},
       "axis":{"orient":"bottom","offset":-359.3,"values":[2000,2010,2020],"format":"d","labelFontSize":4.3,"labelFontWeight":"bold","tickSize":0,"labelPadding":2,"title":null,"domainColor":"#777777"}},
     "y": {"field":"lo","type":"quantitative","scale":{"domain":[0,100],"range":[206.7,142.7],"nice":false,"zero":false},
       "axis":{"orient":"left","offset":-648.3,"labels":false,"ticks":false,"title":"Fordonsbränsleförbrukning","titleFontSize":3.8,"titleFontWeight":"bold","titlePadding":4,"domainColor":"#777777"}},
     "y2": {"field":"hi"}}},
  {"data": {"values": [{"year":2005.7,"lo":53,"hi":53.5},{"year":2010.6,"lo":47.8,"hi":89.6},{"year":2021.2,"lo":36.5,"hi":41.7}]}, "mark": {"type":"area","color":"#e5a32e"},
   "encoding": {
     "x": {"field":"year","type":"quantitative","scale":{"domain":[1998.5,2021.3],"range":[648.3,748.3],"nice":false,"zero":false},"axis":null},
     "y": {"field":"lo","type":"quantitative","scale":{"domain":[0,100],"range":[206.7,142.7],"nice":false,"zero":false},"axis":null},
     "y2": {"field":"hi"}}},
  {"data": {"values": [{"year":2015.5,"v":24.5,"label":"Målsättning\nuppnå ca 20%\nlägre förbrukning"}]}, "mark": {"type":"text","align":"center","baseline":"middle","fontSize":3.4,"fontWeight":"bold","lineBreak":"\n","lineHeight":4.2,"color":"#222222"},
   "encoding": {"x": {"field":"year","type":"quantitative","scale":{"domain":[1998.5,2021.3],"range":[648.3,748.3],"nice":false,"zero":false},"axis":null},
     "y": {"field":"v","type":"quantitative","scale":{"domain":[0,100],"range":[206.7,142.7],"nice":false,"zero":false},"axis":null},
     "text": {"field":"label"}}},
  {"data": {"values": [{"line":0,"text":"Ytterligare förbättringar:"}]}, "mark": {"type":"text","align":"left","baseline":"middle","fontSize":5.2,"fontWeight":"bold","color":"#222222"},
   "encoding": {"x": {"datum":0,"type":"quantitative","scale":{"domain":[0,1],"range":[649.3,650.3],"nice":false,"zero":false},"axis":null},
     "y": {"field":"line","type":"quantitative","scale":{"domain":[0,1],"range":[223.3,224.3],"nice":false,"zero":false},"axis":null},"text": {"field":"text"}}},
  {"data": {"values": [
      {"line":0,"text":"• Förbättrad motoreffektivitet och"},
      {"line":1,"text":"   efterbehandling"},
      {"line":2,"text":"• Fordon och transmission"},
      {"line":3,"text":"• Elektrifiering, intelligenta komponenter,"},
      {"line":4,"text":"   stopp-start fordonssystem"},
      {"line":5,"text":"• Återvinning av överskottsvärme och bromsenergi"},
      {"line":6,"text":"• Telematics och navigeringsutrustning"}]},
   "mark": {"type":"text","align":"left","baseline":"middle","fontSize":4.6,"color":"#333333"},
   "encoding": {"x": {"datum":0,"type":"quantitative","scale":{"domain":[0,1],"range":[649.3,650.3],"nice":false,"zero":false},"axis":null},
     "y": {"field":"line","type":"quantitative","scale":{"domain":[0,1],"range":[232.7,242.1],"nice":false,"zero":false},"axis":null},"text": {"field":"text"}}},
  {"data": {"values": [{"sep":0}]}, "mark": {"type":"rule","color":"#c4c4c4","strokeWidth":0.7},
   "encoding": {"x": {"datum":0,"type":"quantitative","scale":{"domain":[0,1],"range":[448,752],"nice":false,"zero":false},"axis":null},"x2": {"datum":1},
     "y": {"field":"sep","type":"quantitative","scale":{"domain":[0,1],"range":[299.3,300.3],"nice":false,"zero":false},"axis":null}}},
  {"data": {"values": [{"line":0,"text":"Global Infrastruktur"},{"line":1,"text":"Befolkning i städer"}]}, "mark": {"type":"text","align":"left","baseline":"middle","fontSize":7.5,"color":"#444444"},
   "encoding": {"x": {"datum":0,"type":"quantitative","scale":{"domain":[0,1],"range":[448,449],"nice":false,"zero":false},"axis":null},
     "y": {"field":"line","type":"quantitative","scale":{"domain":[0,1],"range":[313.3,361],"nice":false,"zero":false},"axis":null},"text": {"field":"text"}}},
  {"data": {"values": [
      {"line":0,"text":"Den fortsatta ekonomiska tillväxten på tillväxtmarknader, särskilt i BRIC-länder,"},
      {"line":1,"text":"driver ökad efterfrågan på Concentrics produkter på alla slutmarknader."}]},
   "mark": {"type":"text","align":"left","baseline":"middle","fontSize":4.3,"color":"#333333"},
   "encoding": {"x": {"datum":0,"type":"quantitative","scale":{"domain":[0,1],"range":[448,449],"nice":false,"zero":false},"axis":null},
     "y": {"field":"line","type":"quantitative","scale":{"domain":[0,1],"range":[324.3,331],"nice":false,"zero":false},"axis":null},"text": {"field":"text"}}},

  {"data": {"name":"picto"}, "transform": [{"filter":"datum.year == 'År 2000'"}], "mark": {"type":"rule","strokeWidth":4.4,"strokeDash":[2.6,0.9],"yOffset":-4},
   "encoding": {
     "x": {"field":"value","type":"quantitative","scale":{"domain":[0,2500],"range":[483.3,626.7],"nice":false,"zero":false},
       "axis":{"orient":"bottom","offset":-71,"values":[0,500,1000,1500,2000,2500],"labelExpr":"replace(format(datum.value, ','), ',', ' ')","domain":false,"ticks":false,"labelPadding":3,"labelFontSize":4.5,"grid":true,"gridColor":"#e4e4e4","gridWidth":0.5,"title":null}},
     "x2": {"datum":0},
     "y": {"field":"region","type":"nominal","scale":{"type":"point","domain":["Asien","Afrika","Europa","Latin Amerika","NordAmerika"],"range":[385,478.3],"padding":0},
       "axis":{"orient":"left","offset":-480.3,"domain":false,"ticks":false,"labelPadding":3,"labelFontSize":4.5,"title":null}},
     "color": {"field":"year","type":"nominal","scale":{"domain":["År 2000","År 2030"],"range":["#ecb536","#c23b2d"]},
       "legend":{"orient":"none","legendX":491,"legendY":514,"direction":"horizontal","title":"Stadsbefolkning, miljoner","titleOrient":"left","titleFontSize":4.5,"titleFontWeight":"normal","titleColor":"#333333","titlePadding":13,"labelFontSize":4.5,"labelColor":"#333333","columnPadding":10,"symbolType":"square","symbolSize":9,"symbolStrokeWidth":2.6,"labelOffset":3}}}},
  {"data": {"name":"picto"}, "transform": [{"filter":"datum.year == 'År 2000'"}], "mark": {"type":"rule","strokeWidth":2,"strokeDash":[1.4,2.1],"strokeDashOffset":-0.6,"yOffset":-7.6,"color":"#ecb536"},
   "encoding": {"x": {"field":"value","type":"quantitative","scale":{"domain":[0,2500],"range":[483.3,626.7],"nice":false,"zero":false},"axis":null},"x2": {"datum":0},
     "y": {"field":"region","type":"nominal","scale":{"type":"point","domain":["Asien","Afrika","Europa","Latin Amerika","NordAmerika"],"range":[385,478.3],"padding":0},"axis":null}}},
  {"data": {"name":"picto"}, "transform": [{"filter":"datum.year == 'År 2030'"}], "mark": {"type":"rule","strokeWidth":4.4,"strokeDash":[2.6,0.9],"yOffset":5.5},
   "encoding": {"x": {"field":"value","type":"quantitative","scale":{"domain":[0,2500],"range":[483.3,626.7],"nice":false,"zero":false},"axis":null},"x2": {"datum":0},
     "y": {"field":"region","type":"nominal","scale":{"type":"point","domain":["Asien","Afrika","Europa","Latin Amerika","NordAmerika"],"range":[385,478.3],"padding":0},"axis":null},
     "color": {"field":"year","type":"nominal","scale":{"domain":["År 2000","År 2030"],"range":["#ecb536","#c23b2d"]},"legend":null}}},
  {"data": {"name":"picto"}, "transform": [{"filter":"datum.year == 'År 2030'"}], "mark": {"type":"rule","strokeWidth":2,"strokeDash":[1.4,2.1],"strokeDashOffset":-0.6,"yOffset":1.9,"color":"#c23b2d"},
   "encoding": {"x": {"field":"value","type":"quantitative","scale":{"domain":[0,2500],"range":[483.3,626.7],"nice":false,"zero":false},"axis":null},"x2": {"datum":0},
     "y": {"field":"region","type":"nominal","scale":{"type":"point","domain":["Asien","Afrika","Europa","Latin Amerika","NordAmerika"],"range":[385,478.3],"padding":0},"axis":null}}},
  {"data": {"values": [{"line":0,"text":"Källa: WBCSD, UN"}]}, "mark": {"type":"text","align":"right","baseline":"middle","fontSize":4,"fontWeight":"bold","color":"#222222"},
   "encoding": {"x": {"datum":0,"type":"quantitative","scale":{"domain":[0,1],"range":[628.3,629.3],"nice":false,"zero":false},"axis":null},
     "y": {"field":"line","type":"quantitative","scale":{"domain":[0,1],"range":[526.7,527.7],"nice":false,"zero":false},"axis":null},"text": {"field":"text"}}},
  {"data": {"values": [{"line":0,"text":"1 miljard nya konsumenter inträder på"},{"line":1,"text":"tillväxtmarknaderna 2025."}]}, "mark": {"type":"text","align":"left","baseline":"middle","fontSize":4.5,"color":"#333333"},
   "encoding": {"x": {"datum":0,"type":"quantitative","scale":{"domain":[0,1],"range":[649.3,650.3],"nice":false,"zero":false},"axis":null},
     "y": {"field":"line","type":"quantitative","scale":{"domain":[0,1],"range":[375,383.3],"nice":false,"zero":false},"axis":null},"text": {"field":"text"}}},
  {"data": {"values": [{"line":0,"text":"Urbana områden behöver bygga totalt ytor"},{"line":1,"text":"motsvarande 85 % av dagens bestånd"},{"line":2,"text":"– en yta lika stor som Österrike, vid en"},{"line":3,"text":"årlig tillväxttakt på 4,2 % 2010–2025."}]}, "mark": {"type":"text","align":"left","baseline":"middle","fontSize":4.5,"color":"#333333"},
   "encoding": {"x": {"datum":0,"type":"quantitative","scale":{"domain":[0,1],"range":[649.3,650.3],"nice":false,"zero":false},"axis":null},
     "y": {"field":"line","type":"quantitative","scale":{"domain":[0,1],"range":[393.3,401.3],"nice":false,"zero":false},"axis":null},"text": {"field":"text"}}},
  {"data": {"values": [{"line":0,"text":"Över 2,5 gånger av dagens nivå för hamn-"},{"line":1,"text":"infrastruktur behövs för att möta den ökande"},{"line":2,"text":"behovet av containertrafik. Containertrafiken"},{"line":3,"text":"kommer att öka med en sammansatt årlig"},{"line":4,"text":"ökningstakt på 7,2 % från 2010 till 2025."}]}, "mark": {"type":"text","align":"left","baseline":"middle","fontSize":4.5,"color":"#333333"},
   "encoding": {"x": {"datum":0,"type":"quantitative","scale":{"domain":[0,1],"range":[649.3,650.3],"nice":false,"zero":false},"axis":null},
     "y": {"field":"line","type":"quantitative","scale":{"domain":[0,1],"range":[427.3,435.3],"nice":false,"zero":false},"axis":null},"text": {"field":"text"}}},
  {"data": {"values": [{"line":0,"text":"Den årliga BNP-tillväxten globalt kommer"},{"line":1,"text":"att uppgå till 4,4 % i urbana områden 2010"},{"line":2,"text":"till 2025."}]}, "mark": {"type":"text","align":"left","baseline":"middle","fontSize":4.5,"color":"#333333"},
   "encoding": {"x": {"datum":0,"type":"quantitative","scale":{"domain":[0,1],"range":[649.3,650.3],"nice":false,"zero":false},"axis":null},
     "y": {"field":"line","type":"quantitative","scale":{"domain":[0,1],"range":[469.3,477.6],"nice":false,"zero":false},"axis":null},"text": {"field":"text"}}}
]
}
